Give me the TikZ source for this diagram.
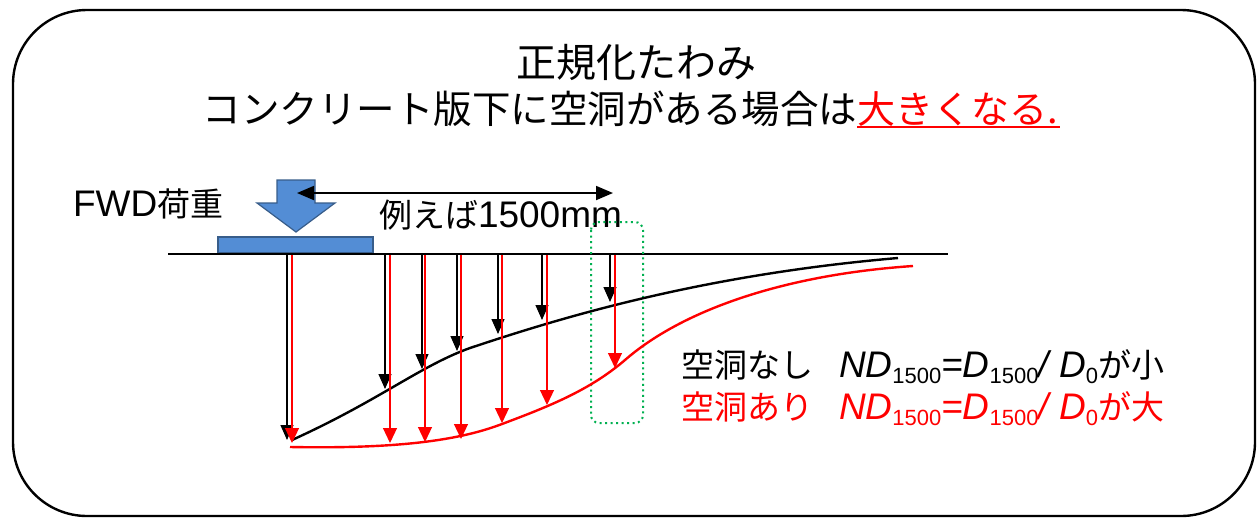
\documentclass[tikz,border=0pt]{standalone}
\usepackage{fontspec}
\setmainfont{Liberation Sans}
\newfontfamily\cjk{Noto Sans CJK JP}
\usetikzlibrary{arrows.meta}
\definecolor{plateblue}{RGB}{83,141,213}
\definecolor{plateedge}{RGB}{56,93,138}
\definecolor{boxgreen}{RGB}{0,176,80}
\newcommand{\lowsub}[1]{\raisebox{-6pt}{\fontsize{22}{24}\selectfont\upshape #1}}
\newcommand{\jp}[1]{{\fontsize{33}{38}\selectfont\cjk #1}}
\begin{document}
\begin{tikzpicture}[x=1pt,y=-1pt,
  txt/.style={inner sep=0pt, outer sep=0pt},
  blkarrow/.style={draw=black, line width=1.3pt, -{Triangle[width=13pt,length=15pt]}},
  redarrow/.style={draw=red, line width=1.2pt, -{Triangle[width=14pt,length=15pt]}},
  curveline/.style={line width=2.4pt},
]
\useasboundingbox (0,0) rectangle (1258,520);
\draw[line width=2.4pt, rounded corners=74pt] (13,10) rectangle (1255,516);

% titles
\node[txt, font=\fontsize{40}{46}\selectfont\cjk] (t1) at (636,62) {正規化たわみ};
\node[txt, anchor=base east, font=\fontsize{38.5}{44}\selectfont\cjk] (t2a) at (857,123) {コンクリート版下に空洞がある場合は};
\node[txt, anchor=base west, text=red, font=\fontsize{38}{44}\selectfont\cjk] (t2b) at (t2a.base east) {大きくなる.};
\draw[red, line width=1.5pt] (857,127) -- (1060,127);

% load
\node[txt, anchor=base west, font=\fontsize{37}{42}\selectfont] (fwd) at (73,216) {FWD\jp{荷重}};
\draw[plateedge, line width=1.2pt, fill=plateblue] (277,180) -- (315,180) -- (315,203) -- (335,203) -- (296,232) -- (257,203) -- (277,203) -- cycle;
\draw[plateedge, line width=1.5pt, fill=plateblue] (218,237) rectangle (373,253);
\draw[black, line width=1.8pt, {Triangle[width=14pt,length=17pt]}-{Triangle[width=14pt,length=17pt]}] (297,193) -- (613,193);
\node[txt, anchor=base west, font=\fontsize{37}{42}\selectfont] (dist) at (379,227) {\jp{例えば}1500mm};

% ground line
\draw[line width=1.5pt] (168,254) -- (948,254);

% dotted window
\draw[boxgreen, line width=2pt, dash pattern=on 2pt off 3.5pt, rounded corners=8pt] (591,222) rectangle (643,423);

% deflection curves
\draw[curveline, black] (292,440) .. controls (380,400) and (420,366) .. (470,348)
  .. controls (560,318) and (700,275) .. (898,258);
\draw[curveline, red] (290,447) .. controls (400,449) and (460,440) .. (502,424)
  .. controls (550,406) and (590,390) .. (625,360)
  .. controls (680,312) and (780,275) .. (913,266);

% black arrows
\foreach \x/\y in {287/440, 385/389, 422/369, 457/351, 498/334, 542/320, 610/302}
  \draw[blkarrow] (\x,255) -- (\x,\y);
% red arrows
\foreach \x/\y in {292/443, 390/443, 425/442, 461/439, 502/423, 547/405, 615/368}
  \draw[redarrow] (\x,255) -- (\x,\y);

% legend
\node[txt, anchor=base west, font=\fontsize{37}{42}\selectfont] (leg1) at (681,377) {\jp{空洞なし}\hspace{26pt}{\itshape ND\lowsub{1500}=D\lowsub{1500}/ D\lowsub{0}}\jp{が小}};
\node[txt, anchor=base west, text=red, font=\fontsize{37}{42}\selectfont] (leg2) at (681,419) {\jp{空洞あり}\hspace{26pt}{\itshape ND\lowsub{1500}=D\lowsub{1500}/ D\lowsub{0}}\jp{が大}};
\end{tikzpicture}
\end{document}
